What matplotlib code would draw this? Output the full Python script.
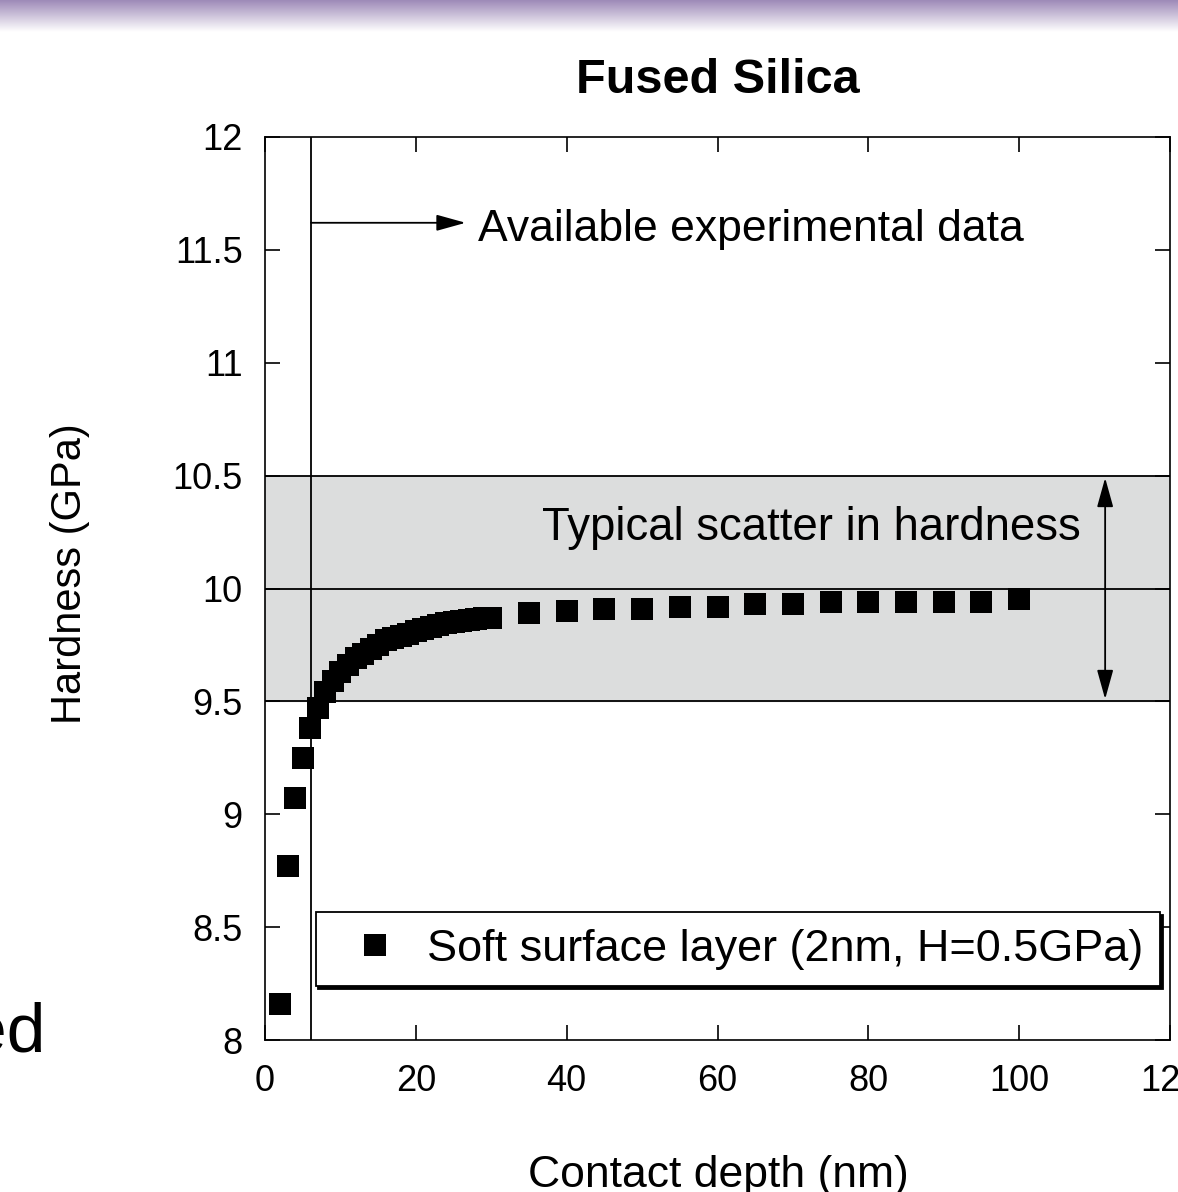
import numpy as np
import matplotlib
matplotlib.use("Agg")
import matplotlib.pyplot as plt

# contact depth (nm) and hardness (GPa)
depth = [2, 3, 4, 5, 6, 7, 8, 9, 10, 11, 12, 13, 14, 15, 16, 17, 18, 19, 20,
         21, 22, 23, 24, 25, 26, 27, 28, 29, 30,
         35, 40, 45, 50, 55, 60, 65, 70, 75, 80, 85, 90, 95, 100]
hardness = [8.16, 8.77, 9.07, 9.25, 9.38, 9.47, 9.54, 9.59, 9.63, 9.66, 9.69,
            9.71, 9.73, 9.75, 9.77, 9.78, 9.79, 9.80, 9.81, 9.82, 9.83, 9.84,
            9.845, 9.85, 9.855, 9.86, 9.865, 9.87, 9.87,
            9.89, 9.90, 9.91, 9.91, 9.92, 9.92, 9.93, 9.93, 9.94, 9.94, 9.94,
            9.94, 9.94, 9.955]

xticks = [0, 20, 40, 60, 80, 100, 120]
yticks = [8, 8.5, 9, 9.5, 10, 10.5, 11, 11.5, 12]
ytick_labels = ["8", "8.5", "9", "9.5", "10", "10.5", "11", "11.5", "12"]

band = (9.5, 10.5)        # typical scatter band
band_mid = 10.0
data_limit = 6.1          # available experimental data starts here

plt.rcParams["font.family"] = ["Liberation Sans", "DejaVu Sans"]

W, H = 1178, 1192
fig = plt.figure(figsize=(W / 100, H / 100), dpi=100, facecolor="white")

# slide header gradient strip
grad = fig.add_axes([0, 1 - 32 / H, 1, 32 / H])
g = np.linspace(0, 1, 64)[:, None]
top = np.array([158, 138, 184]) / 255
img = top[None, None, :] * (1 - g[:, :, None]) + g[:, :, None]
grad.imshow(np.repeat(img, 4, axis=1), aspect="auto", extent=[0, 1, 0, 1])
grad.axis("off")

ax = fig.add_axes([265 / W, 1 - 1040 / H, (1170 - 265) / W, (1040 - 137) / H])

ax.axhspan(band[0], band[1], color="#dcdddd", zorder=0)
for yv in (band[0], band_mid, band[1]):
    ax.axhline(yv, color="black", lw=1.3, zorder=1)
ax.axvline(data_limit, color="black", lw=1.3, zorder=1)

ax.plot(depth, hardness, ls="none", marker="s", ms=16, mew=0, color="black",
        zorder=3, label="Soft surface layer (2nm, H=0.5GPa)")

ax.set_xlim(0, 120)
ax.set_ylim(8, 12)
ax.set_xticks(xticks)
ax.set_yticks(yticks)
ax.set_yticklabels(ytick_labels)
ax.tick_params(direction="in", length=11, width=1.2, labelsize=26, pad=16,
               top=True, right=True)
ax.tick_params(axis="x", pad=17)
for sp in ax.spines.values():
    sp.set_linewidth(1.2)

ax.set_title("Fused Silica", fontsize=35, fontweight="bold", pad=32)

# arrows and notes
ax.annotate("", xy=(26.6, 11.62), xytext=(data_limit, 11.62),
            arrowprops=dict(arrowstyle="-|>,head_length=0.9,head_width=0.25",
                            color="black", lw=1.3, shrinkA=0, shrinkB=0),
            fontsize=20)
ax.text(28.2, 11.59, "Available experimental data", fontsize=32,
        va="center", ha="left")
ax.annotate("", xy=(111.4, 10.49), xytext=(111.4, 9.51),
            arrowprops=dict(arrowstyle="<|-|>,head_length=0.9,head_width=0.25",
                            color="black", lw=1.3, shrinkA=0, shrinkB=0),
            fontsize=20)
ax.text(108.2, 10.27, "Typical scatter in hardness", fontsize=32.8,
        va="center", ha="right")

leg = ax.legend(loc="lower left", bbox_to_anchor=(0.056, 0.06), fontsize=32.4,
                frameon=True, fancybox=False, edgecolor="black",
                shadow={"color": "black", "alpha": 1}, handlelength=1.9,
                handletextpad=0.22, borderpad=0.36, borderaxespad=0)
leg.get_frame().set_linewidth(1.3)

fig.text(70 / W, 1 - 574 / H, "Hardness (GPa)", rotation=90, fontsize=30,
         ha="center", va="center")
fig.text(718 / W, 1 - 1187 / H, "Contact depth (nm)", fontsize=32,
         ha="center", va="baseline")
fig.text(45 / W, 1 - 1052 / H, "ed", fontsize=50, ha="right", va="baseline")

fig.savefig("out.png", dpi=100, facecolor=fig.get_facecolor())
